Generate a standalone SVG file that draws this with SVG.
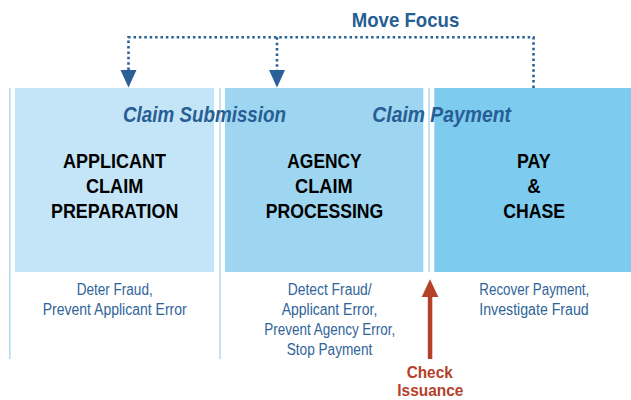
<svg xmlns="http://www.w3.org/2000/svg" width="631" height="400" viewBox="0 0 631 400">
<style>
.sep{fill:#b3ddf4}
.title{font-family:"Liberation Sans",Arial,sans-serif;font-weight:bold;font-size:20px;fill:#000}
.phase{font-family:"Liberation Sans",Arial,sans-serif;font-weight:bold;font-style:italic;font-size:22px;fill:#275e93}
.note{font-family:"Liberation Sans",Arial,sans-serif;font-size:16px;fill:#2f6499}
.focus{font-family:"Liberation Sans",Arial,sans-serif;font-weight:bold;font-size:21px;fill:#275e93}
.check{font-family:"Liberation Sans",Arial,sans-serif;font-weight:bold;font-size:16.5px;fill:#b5412b}
.dot{fill:none;stroke:#2a5f97;stroke-width:2.6;stroke-dasharray:2.5 2.9}
.head{fill:#2a5f97}
</style>
<rect class="sep" x="9" y="88" width="1.6" height="271"/>
<rect class="sep" x="219.2" y="88" width="1.6" height="271"/>
<rect class="sep" x="428.2" y="88" width="1.6" height="184"/>
<g id="node-applicant">
<rect x="15" y="88" width="199" height="184" fill="#c3e5f7"/>
<text class="title" x="63" y="168.3" textLength="103" lengthAdjust="spacingAndGlyphs">APPLICANT</text>
<text class="title" x="86" y="193.3" textLength="57.3" lengthAdjust="spacingAndGlyphs">CLAIM</text>
<text class="title" x="51" y="217.7" textLength="127.3" lengthAdjust="spacingAndGlyphs">PREPARATION</text>
<text class="note" x="76.7" y="295" textLength="76" lengthAdjust="spacingAndGlyphs">Deter Fraud,</text>
<text class="note" x="42.7" y="315" textLength="144" lengthAdjust="spacingAndGlyphs">Prevent Applicant Error</text>
</g>
<g id="node-agency">
<rect x="225" y="88" width="198.3" height="184" fill="#9ed6f1"/>
<text class="title" x="287.3" y="168.3" textLength="74.4" lengthAdjust="spacingAndGlyphs">AGENCY</text>
<text class="title" x="295" y="193.3" textLength="57.7" lengthAdjust="spacingAndGlyphs">CLAIM</text>
<text class="title" x="265.7" y="217.7" textLength="117.6" lengthAdjust="spacingAndGlyphs">PROCESSING</text>
<text class="note" x="287.7" y="295" textLength="84" lengthAdjust="spacingAndGlyphs">Detect Fraud/</text>
<text class="note" x="281.7" y="315" textLength="95.6" lengthAdjust="spacingAndGlyphs">Applicant Error,</text>
<text class="note" x="264.3" y="335" textLength="131" lengthAdjust="spacingAndGlyphs">Prevent Agency Error,</text>
<text class="note" x="286.7" y="355" textLength="85.6" lengthAdjust="spacingAndGlyphs">Stop Payment</text>
</g>
<g id="node-pay">
<rect x="434.3" y="88" width="196.7" height="184" fill="#7dcbef"/>
<text class="title" x="517" y="168.3" textLength="33.7" lengthAdjust="spacingAndGlyphs">PAY</text>
<text class="title" x="527.3" y="193.3" textLength="13.4" lengthAdjust="spacingAndGlyphs">&amp;</text>
<text class="title" x="503.3" y="217.7" textLength="61.7" lengthAdjust="spacingAndGlyphs">CHASE</text>
<text class="note" x="479.3" y="295" textLength="110" lengthAdjust="spacingAndGlyphs">Recover Payment,</text>
<text class="note" x="479.3" y="315" textLength="109.4" lengthAdjust="spacingAndGlyphs">Investigate Fraud</text>
</g>
<g id="phase-labels">
<text class="phase" x="123" y="122" textLength="163" lengthAdjust="spacingAndGlyphs">Claim Submission</text>
<text class="phase" x="372.3" y="122" textLength="138.7" lengthAdjust="spacingAndGlyphs">Claim Payment</text>
</g>
<g id="move-focus-label">
<text class="focus" x="351.7" y="27.4" textLength="107.6" lengthAdjust="spacingAndGlyphs">Move Focus</text>
</g>
<g id="check-issuance-label">
<text class="check" x="406.7" y="377.5" textLength="46" lengthAdjust="spacingAndGlyphs">Check</text>
<text class="check" x="397.3" y="396" textLength="66" lengthAdjust="spacingAndGlyphs">Issuance</text>
</g>
<g id="connectors">
<path class="dot" d="M533.5,88 V37.3 H128.5 V70"/>
<path class="dot" d="M277,37.3 V70"/>
<polygon class="head" points="120.5,70 136.5,70 128.5,87.5"/>
<polygon class="head" points="269,70 285,70 277,87.5"/>
<rect x="427.8" y="295" width="4.5" height="64" fill="#b5412b"/>
<polygon points="421.7,297 438.3,297 430,279.3" fill="#b5412b"/>
</g>
</svg>
